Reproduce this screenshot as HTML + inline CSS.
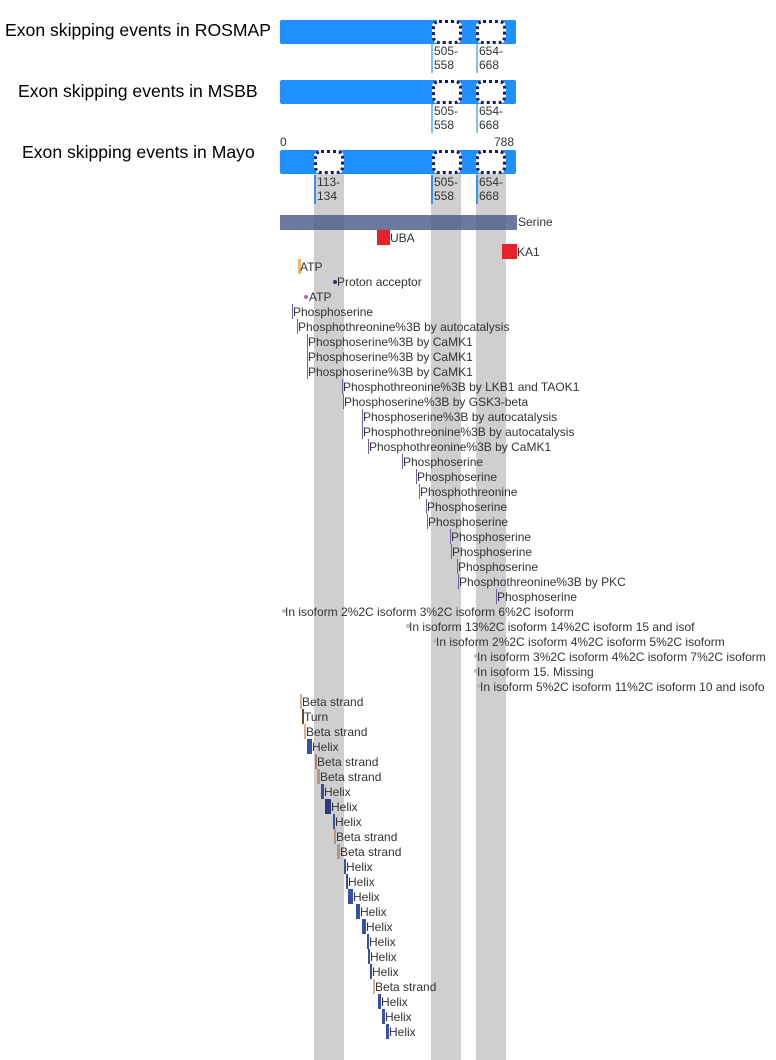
<!DOCTYPE html>
<html><head><meta charset="utf-8"><style>
body{margin:0;width:776px;height:1060px;background:#fff;position:relative;overflow:hidden;font-family:"Liberation Sans",sans-serif}
div{position:absolute}
.t{font-size:17.6px;color:#000;white-space:nowrap}
.bar{background:#1e90ff;height:24px;left:280px;width:236px;border-radius:2px}
.hole{background:#fff;border:3px dotted #1a1a66;border-radius:7px;box-sizing:border-box;height:24px}
.col{background:#cfcfcf;top:174px;height:886px}
.l{font-size:12px;color:#333;white-space:nowrap;line-height:15px;height:15px}
.lab{font-size:12px;color:#333;line-height:14px;border-left:2px solid #7fbfff;padding-left:1px;height:29px}
.f{height:15px}
.d{width:4px;height:4px;border-radius:50%}
</style></head><body>
<div class="t" style="left:5px;top:20px">Exon skipping events in ROSMAP</div>
<div class="t" style="left:18px;top:81px">Exon skipping events in MSBB</div>
<div class="t" style="left:22px;top:142px">Exon skipping events in Mayo</div>

<div class="col" style="left:314px;width:30px"></div>
<div class="col" style="left:431px;width:30px"></div>
<div class="col" style="left:476px;width:30px"></div>

<div class="bar" style="top:20px"></div>
<div class="hole" style="left:432px;top:20px;width:30px"></div>
<div class="hole" style="left:476px;top:20px;width:30px"></div>
<div class="lab" style="left:431px;top:44px">505-<br>558</div>
<div class="lab" style="left:476px;top:44px">654-<br>668</div>

<div class="bar" style="top:80px"></div>
<div class="hole" style="left:432px;top:80px;width:30px"></div>
<div class="hole" style="left:476px;top:80px;width:30px"></div>
<div class="lab" style="left:431px;top:104px">505-<br>558</div>
<div class="lab" style="left:476px;top:104px">654-<br>668</div>

<div class="l" style="left:280px;top:135px">0</div>
<div class="l" style="left:494px;top:135px">788</div>
<div class="bar" style="top:150px"></div>
<div class="hole" style="left:314px;top:150px;width:30px"></div>
<div class="hole" style="left:432px;top:150px;width:30px"></div>
<div class="hole" style="left:476px;top:150px;width:30px"></div>
<div class="lab" style="left:314px;top:175px;border-color:#3a8fe8">113-<br>134</div>
<div class="lab" style="left:431px;top:175px;border-color:#3a8fe8">505-<br>558</div>
<div class="lab" style="left:476px;top:175px;border-color:#3a8fe8">654-<br>668</div>

<div style="left:280px;top:215px;width:237px;height:15px;background:#4a5a8a;opacity:.82"></div>
<div class="l" style="left:518px;top:215px">Serine</div>
<div style="left:377px;top:230px;width:13px;height:15px;background:#e8202a"></div>
<div class="l" style="left:390px;top:231px">UBA</div>
<div style="left:502px;top:244px;width:15px;height:15px;background:#e8202a"></div>
<div class="l" style="left:517px;top:245px">KA1</div>

<div style="left:298px;top:259px;width:3px;height:15px;background:#f5b56a"></div>
<div class="l" style="left:300px;top:260px">ATP</div>
<div class="d" style="left:333px;top:280px;background:#3a2a6a"></div>
<div class="l" style="left:337px;top:275px">Proton acceptor</div>
<div class="d" style="left:304px;top:295px;background:#c060b0"></div>
<div class="l" style="left:309px;top:290px">ATP</div>

<div id="ph"></div>
<script>
var P=[[292,304,"Phosphoserine"],[297,319,"Phosphothreonine%3B by autocatalysis"],[307,334,"Phosphoserine%3B by CaMK1"],[307,349,"Phosphoserine%3B by CaMK1"],[307,364,"Phosphoserine%3B by CaMK1"],[342,379,"Phosphothreonine%3B by LKB1 and TAOK1"],[343,394,"Phosphoserine%3B by GSK3-beta"],[362,409,"Phosphoserine%3B by autocatalysis"],[362,424,"Phosphothreonine%3B by autocatalysis"],[368,439,"Phosphothreonine%3B by CaMK1"],[402,454,"Phosphoserine"],[416,469,"Phosphoserine"],[419,484,"Phosphothreonine"],[426,499,"Phosphoserine"],[427,514,"Phosphoserine"],[450,529,"Phosphoserine"],[451,544,"Phosphoserine"],[457,559,"Phosphoserine"],[458,574,"Phosphothreonine%3B by PKC"],[496,589,"Phosphoserine"]];
var I=[[282,604,"In isoform 2%2C isoform 3%2C isoform 6%2C isoform"],[406,619,"In isoform 13%2C isoform 14%2C isoform 15 and isof"],[433,634,"In isoform 2%2C isoform 4%2C isoform 5%2C isoform"],[474,649,"In isoform 3%2C isoform 4%2C isoform 7%2C isoform"],[474,664,"In isoform 15. Missing"],[477,679,"In isoform 5%2C isoform 11%2C isoform 10 and isofo"]];
var B="#d8b090",H="#3a50a8";
var S=[[300,694,2,B,"Beta strand"],[302,709,2,"#6a4a2a","Turn"],[304,724,2,B,"Beta strand"],[307,739,5,H,"Helix"],[315,754,2,"#a08870","Beta strand"],[317,769,3,"#b09880","Beta strand"],[321,784,3,H,"Helix"],[325,799,6,"#2a3a80","Helix"],[333,814,2,H,"Helix"],[334,829,2,"#b09880","Beta strand"],[337,844,3,"#b09880","Beta strand"],[344,859,2,H,"Helix"],[346,874,2,H,"Helix"],[348,889,5,H,"Helix"],[356,904,4,H,"Helix"],[362,919,4,H,"Helix"],[367,934,2,H,"Helix"],[368,949,2,H,"Helix"],[370,964,2,H,"Helix"],[373,979,2,B,"Beta strand"],[378,994,3,H,"Helix"],[382,1009,3,H,"Helix"],[386,1024,3,H,"Helix"]];
var h="";
P.forEach(function(p){h+='<div class="f" style="left:'+p[0]+'px;top:'+p[1]+'px;width:1px;background:#7a5aa8"></div><div class="l" style="left:'+(p[0]+1)+'px;top:'+(p[1]+1)+'px">'+p[2]+'</div>';});
I.forEach(function(p){h+='<div class="d" style="left:'+p[0]+'px;top:'+(p[1]+5)+'px;background:#bbb"></div><div class="l" style="left:'+(p[0]+3)+'px;top:'+(p[1]+1)+'px">'+p[2]+'</div>';});
S.forEach(function(p){h+='<div class="f" style="left:'+p[0]+'px;top:'+p[1]+'px;width:'+p[2]+'px;background:'+p[3]+'"></div><div class="l" style="left:'+(p[0]+p[2])+'px;top:'+(p[1]+1)+'px">'+p[4]+'</div>';});
document.getElementById("ph").outerHTML=h;
</script>
</body></html>
